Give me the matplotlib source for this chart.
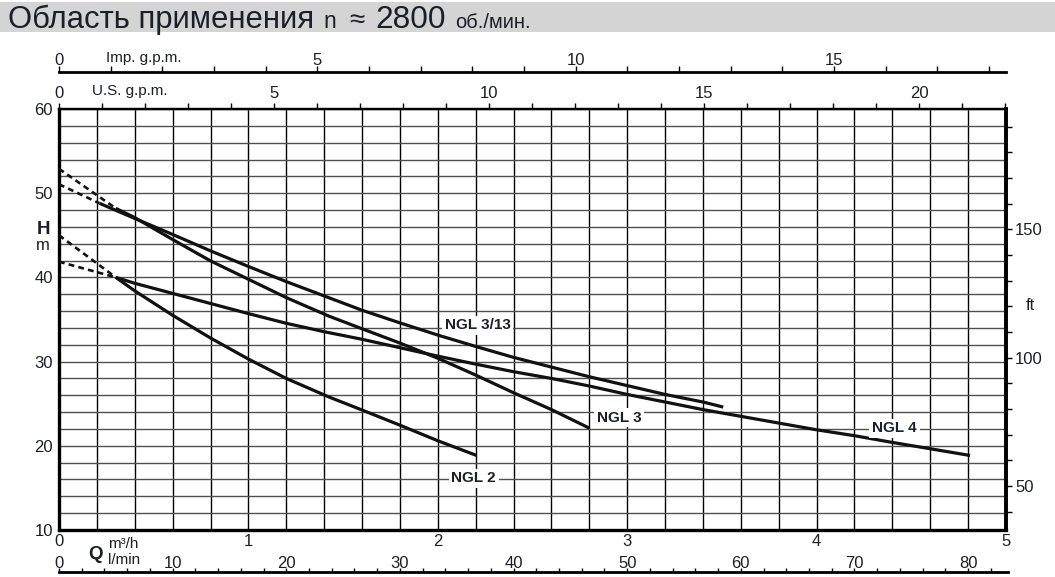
import matplotlib
matplotlib.use("Agg")
import matplotlib.pyplot as plt
from matplotlib.ticker import MultipleLocator
from matplotlib.patches import Rectangle

plt.rcParams['font.family'] = ['Liberation Sans', 'DejaVu Sans']

# ---------------- data (Q in m3/h, H in m) ----------------
q_ngl313 = [0.214, 0.4, 0.6, 0.8, 1.0, 1.2, 1.4, 1.6, 1.8, 2.0, 2.2, 2.4, 2.6, 2.8, 3.0, 3.2, 3.4, 3.507]
h_ngl313 = [48.8, 47.0, 45.1, 43.15, 41.3, 39.5, 37.8, 36.1, 34.6, 33.15, 31.8, 30.5, 29.35, 28.2, 27.15, 26.1, 25.2, 24.6]

q_ngl3 = [0.30, 0.4, 0.6, 0.8, 1.0, 1.2, 1.425, 1.6, 1.8, 2.0, 2.2, 2.4, 2.6, 2.8]
h_ngl3 = [48.2, 47.1, 44.5, 41.96, 39.78, 37.6, 35.4, 33.9, 32.2, 30.4, 28.4, 26.3, 24.3, 22.1]

q_ngl4 = [0.30, 0.4, 0.6, 0.8, 1.0, 1.2, 1.4, 1.6, 1.8, 2.0, 2.2, 2.4, 2.6, 2.8, 3.0, 3.2, 3.4, 3.6, 3.8, 4.0, 4.2, 4.4, 4.6, 4.81]
h_ngl4 = [40.0, 39.3, 38.1, 36.9, 35.7, 34.55, 33.55, 32.65, 31.65, 30.65, 29.7, 28.8, 28.0, 27.1, 26.1, 25.2, 24.3, 23.5, 22.7, 21.9, 21.2, 20.4, 19.65, 18.85]

q_ngl2 = [0.30, 0.4, 0.6, 0.8, 1.0, 1.2, 1.425, 1.6, 1.8, 2.0, 2.205]
h_ngl2 = [40.0, 38.4, 35.5, 32.8, 30.3, 28.0, 25.8, 24.25, 22.45, 20.6, 18.85]

# shut-off heads (dashed extrapolation to Q = 0)
shutoff = {'NGL 3/13': 51.06, 'NGL 3': 52.9, 'NGL 4': 41.87, 'NGL 2': 45.0}

curve_names = ['NGL 3/13', 'NGL 3', 'NGL 4', 'NGL 2']
curves = {'NGL 3/13': (q_ngl313, h_ngl313), 'NGL 3': (q_ngl3, h_ngl3),
          'NGL 4': (q_ngl4, h_ngl4), 'NGL 2': (q_ngl2, h_ngl2)}
label_pos = {'NGL 3/13': (2.21, 34.3), 'NGL 3': (2.957, 23.34),
             'NGL 4': (4.411, 22.08), 'NGL 2': (2.19, 16.14)}

IMP_GPM = 3.6662     # Imp. g.p.m. per m3/h
US_GPM = 4.4029      # U.S. g.p.m. per m3/h
LMIN = 1000.0 / 60   # l/min per m3/h
FT = 3.28084         # ft per m

x_ticks_m3h = [0, 1, 2, 3, 4, 5]
y_ticks_m = [10, 20, 30, 40, 50, 60]
lmin_ticks = [0, 10, 20, 30, 40, 50, 60, 70, 80]

# ---------------- figure ----------------
W, H = 1055, 577
fig = plt.figure(figsize=(W / 100, H / 100), dpi=100)


def fx(px):
    return px / W


def fy(py):
    return 1 - py / H


TXT = '#1b1f27'

# header band
fig.patches.append(Rectangle((0, fy(32)), 1, fy(2) - fy(32), transform=fig.transFigure,
                             facecolor='#d4d4d4', edgecolor='none', zorder=0))
base = fy(28)
fig.text(fx(8), base, 'Область применения', fontsize=22.3, color=TXT, va='baseline', ha='left')
fig.text(fx(323), base, 'n', fontsize=16.5, color=TXT, va='baseline', ha='left')
fig.text(fx(356.5), base, '≈', fontsize=20, color=TXT, va='baseline', ha='center')
fig.text(fx(375), base, '2800', fontsize=22.8, color=TXT, va='baseline', ha='left')
fig.text(fx(455), base, 'об./мин.', fontsize=14.5, color=TXT, va='baseline', ha='left')

L, R, T, B = 59, 1006, 109, 530
ax = fig.add_axes([fx(L), fy(B), fx(R) - fx(L), fy(T) - fy(B)])
ax.set_xlim(0, 5)
ax.set_ylim(10, 60)
ax.set_xticks(x_ticks_m3h)
ax.set_yticks(y_ticks_m)
ax.xaxis.set_minor_locator(MultipleLocator(0.2))
ax.yaxis.set_minor_locator(MultipleLocator(2))
ax.set_axisbelow(True)
ax.grid(axis='x', which='both', color='black', lw=1.0)
ax.grid(axis='y', which='both', color='#505050', lw=1.0)
ax.tick_params(which='both', length=0)
ax.tick_params(axis='x', pad=3.2, labelsize=12, labelcolor=TXT)
ax.tick_params(axis='y', pad=4.3, labelsize=12, labelcolor=TXT)
ax.spines['left'].set_linewidth(2.4)
ax.spines['bottom'].set_linewidth(2.4)
ax.spines['right'].set_linewidth(2.6)
ax.spines['top'].set_linewidth(1.6)

# curves
for name in curve_names:
    q, h = curves[name]
    ax.plot(q, h, color='#111111', lw=2.3, solid_capstyle='butt', solid_joinstyle='round', zorder=3)
    ax.plot([0, q[0]], [shutoff[name], h[0]], color='#111111', lw=1.9,
            linestyle=(0, (2.2, 1.6)), zorder=3)
    lx, ly = label_pos[name]
    ax.text(lx, ly, name, fontsize=11, fontweight='bold', color=TXT, ha='center', va='center',
            zorder=4, bbox=dict(facecolor='white', edgecolor='none', pad=2.0))

# U.S. g.p.m. (top of plot)
sec_us = ax.secondary_xaxis('top', functions=(lambda q: q * US_GPM, lambda g: g / US_GPM))
sec_us.xaxis.set_major_locator(MultipleLocator(5))
sec_us.xaxis.set_minor_locator(MultipleLocator(1))
sec_us.tick_params(which='both', direction='out', length=4.3, width=1.0, labelsize=12, pad=1.6,
                   labelcolor=TXT)
sec_us.spines['top'].set_linewidth(1.6)
fig.text(fx(92), fy(91), 'U.S. g.p.m.', fontsize=11, color=TXT, ha='left', va='center')

# ft (right)
sec_ft = ax.secondary_yaxis('right', functions=(lambda m: m * FT, lambda f: f / FT))
sec_ft.yaxis.set_major_locator(MultipleLocator(50))
sec_ft.yaxis.set_minor_locator(MultipleLocator(10))
sec_ft.tick_params(which='both', direction='out', length=4.0, width=1.0, labelsize=12, pad=2.5,
                   labelcolor=TXT)
sec_ft.spines['right'].set_linewidth(2.6)
fig.text(fx(1030.5), fy(305), 'ft', fontsize=12, color=TXT, ha='center', va='center')

# Imp. g.p.m. scale
ax_imp = fig.add_axes([fx(L), fy(72.5), fx(R) - fx(L), 1e-5])
ax_imp.set_xlim(0, 5 * IMP_GPM)
ax_imp.patch.set_visible(False)
for s in ['left', 'right', 'bottom']:
    ax_imp.spines[s].set_visible(False)
ax_imp.spines['top'].set_linewidth(2.0)
ax_imp.set_yticks([])
ax_imp.xaxis.set_ticks_position('top')
ax_imp.xaxis.set_major_locator(MultipleLocator(5))
ax_imp.xaxis.set_minor_locator(MultipleLocator(1))
ax_imp.tick_params(which='both', direction='out', length=4.3, width=1.0, labelsize=12, pad=-1.0,
                   labelcolor=TXT)
fig.text(fx(106), fy(58), 'Imp. g.p.m.', fontsize=11, color=TXT, ha='left', va='center')

# l/min scale
ax_l = fig.add_axes([fx(L), fy(572), fx(1008) - fx(L), 1e-5])
ax_l.set_xlim(0, 5 * LMIN * (1008 - L) / (R - L))
ax_l.patch.set_visible(False)
for s in ['left', 'right', 'bottom']:
    ax_l.spines[s].set_visible(False)
ax_l.spines['top'].set_linewidth(2.0)
ax_l.set_yticks([])
ax_l.xaxis.set_ticks_position('top')
ax_l.set_xticks(lmin_ticks)
ax_l.xaxis.set_minor_locator(MultipleLocator(2))
ax_l.tick_params(which='both', direction='out', length=3.0, width=1.0, labelsize=12, pad=-2.0,
                 labelcolor=TXT)

fig.text(fx(88), fy(559), 'Q', fontsize=13.5, fontweight='bold', color=TXT, ha='left', va='baseline')
fig.text(fx(108), fy(548), 'm³/h', fontsize=11, color=TXT, ha='left', va='baseline')
fig.text(fx(108), fy(564), 'l/min', fontsize=11, color=TXT, ha='left', va='baseline')
fig.text(fx(43.3), fy(229), 'H', fontsize=13.5, fontweight='bold', color=TXT, ha='center', va='center')
fig.text(fx(43), fy(246), 'm', fontsize=12, color=TXT, ha='center', va='center')

fig.savefig('out.png', dpi=100)
